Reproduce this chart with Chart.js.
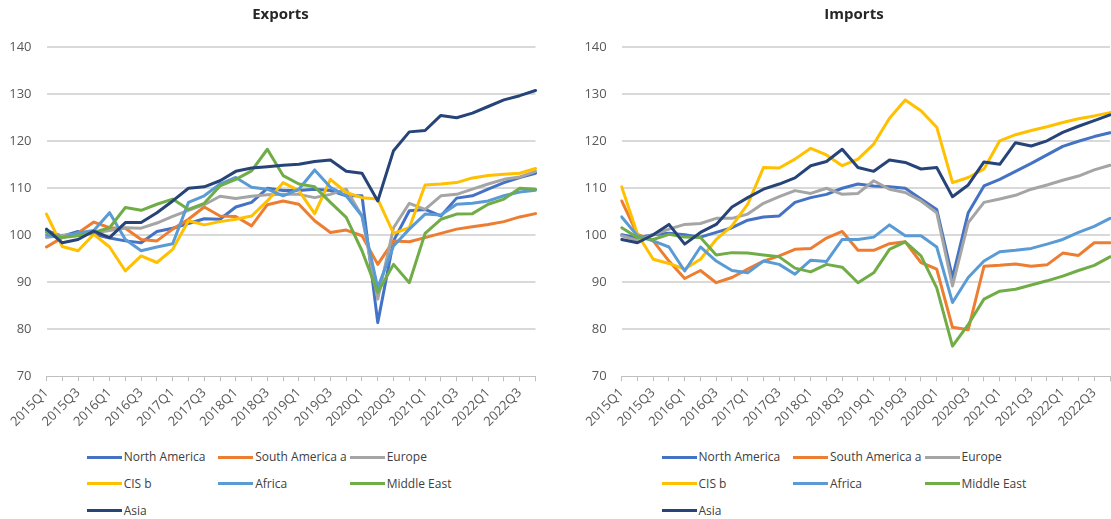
<!DOCTYPE html>
<html>
<head>
<meta charset="utf-8">
<script src="https://cdn.jsdelivr.net/npm/chart.js@4.4.1/dist/chart.umd.min.js"></script>
<style>
  html, body { margin: 0; padding: 0; background: #fff; overflow: hidden; }
  body { width: 1111px; height: 519px; position: relative; font-family: 'Open Sans', sans-serif; }
  canvas { position: absolute; top: 0; }
  .legend { position: absolute; top: 0; left: 0; font-size: 12px; color: #404040; }
  .legend .item { position: absolute; white-space: nowrap; height: 16px; line-height: 16px; }
  .legend .swatch { display: inline-block; width: 35px; height: 3px; vertical-align: middle; margin-right: 2px; position: relative; top: -1px; }
</style>
</head>
<body>
<canvas id="exportsChart" width="561" height="440" style="left:0px"></canvas>
<canvas id="importsChart" width="558" height="440" style="left:575px"></canvas>
<div id="exportsLegend" class="legend"></div>
<div id="importsLegend" class="legend"></div>
<script>
const quarters = [
  '2015Q1','2015Q2','2015Q3','2015Q4','2016Q1','2016Q2','2016Q3','2016Q4',
  '2017Q1','2017Q2','2017Q3','2017Q4','2018Q1','2018Q2','2018Q3','2018Q4',
  '2019Q1','2019Q2','2019Q3','2019Q4','2020Q1','2020Q2','2020Q3','2020Q4',
  '2021Q1','2021Q2','2021Q3','2021Q4','2022Q1','2022Q2','2022Q3','2022Q4'
];
const regions = ['North America', 'South America a', 'Europe', 'CIS b', 'Africa', 'Middle East', 'Asia'];
const regionColors = ['#4472C4', '#ED7D31', '#A5A5A5', '#FFC000', '#5B9BD5', '#70AD47', '#264478'];
const yMin = 70, yMax = 140, yStep = 10;

// Exports (index)
const exportsNorthAmerica = [101.0, 99.8, 100.8, 100.2, 99.4, 98.8, 98.4, 100.8, 101.5, 102.5, 103.5, 103.4, 106.0, 107.0, 110.0, 109.5, 109.5, 109.8, 109.5, 108.4, 108.4, 81.4, 98.8, 105.2, 105.5, 104.1, 107.9, 108.4, 109.8, 111.2, 112.3, 113.2];
const exportsSouthAmerica = [97.5, 99.5, 100.5, 102.8, 101.6, 101.5, 99.1, 98.8, 101.3, 103.4, 106.0, 104.1, 104.0, 102.0, 106.5, 107.3, 106.6, 103.1, 100.6, 101.1, 99.9, 93.8, 98.8, 98.6, 99.5, 100.4, 101.3, 101.8, 102.3, 102.9, 103.9, 104.6];
const exportsEurope = [99.5, 100.0, 100.2, 100.5, 101.0, 101.6, 101.5, 102.6, 104.0, 105.3, 106.5, 108.3, 107.8, 108.3, 108.6, 108.7, 108.7, 108.0, 108.7, 109.8, 104.1, 86.4, 101.6, 106.8, 105.5, 108.4, 108.7, 109.8, 110.9, 111.9, 112.4, 113.6];
const exportsCIS = [104.5, 97.6, 96.7, 100.2, 97.5, 92.4, 95.6, 94.2, 97.0, 103.1, 102.2, 102.9, 103.4, 104.1, 107.3, 111.2, 109.5, 104.6, 111.9, 109.1, 108.0, 107.7, 100.4, 101.6, 110.7, 110.9, 111.2, 112.2, 112.7, 113.0, 113.2, 114.2];
const exportsAfrica = [100.0, 99.5, 100.5, 101.0, 104.8, 99.1, 96.7, 97.5, 98.2, 107.0, 108.4, 110.9, 112.3, 110.2, 109.8, 108.4, 109.8, 113.9, 110.2, 108.4, 104.1, 88.8, 97.7, 101.3, 104.5, 104.3, 106.6, 106.8, 107.3, 108.4, 109.2, 109.6];
const exportsMiddleEast = [100.6, 99.5, 99.9, 100.6, 101.6, 105.9, 105.3, 106.6, 107.7, 105.5, 106.8, 110.5, 111.9, 113.7, 118.3, 112.7, 110.9, 110.3, 107.0, 103.8, 96.7, 87.8, 93.8, 89.9, 100.4, 103.4, 104.5, 104.6, 106.6, 107.7, 110.0, 109.8];
const exportsAsia = [101.3, 98.4, 99.1, 100.9, 99.5, 102.7, 102.7, 104.8, 107.3, 110.0, 110.3, 111.6, 113.6, 114.3, 114.6, 114.9, 115.1, 115.7, 116.0, 113.6, 113.2, 107.3, 118.0, 122.0, 122.3, 125.5, 125.0, 126.0, 127.4, 128.8, 129.7, 130.8];

// Imports (index)
const importsNorthAmerica = [100.1, 99.4, 100.1, 100.4, 100.1, 99.6, 100.6, 101.6, 103.2, 103.9, 104.1, 107.0, 108.0, 108.7, 110.0, 110.9, 110.5, 110.3, 110.0, 107.7, 105.5, 91.0, 104.8, 110.5, 111.9, 113.6, 115.3, 117.1, 118.9, 120.0, 121.0, 121.8];
const importsSouthAmerica = [107.3, 100.2, 98.8, 94.5, 90.8, 92.5, 89.9, 91.0, 92.8, 94.5, 95.6, 97.0, 97.2, 99.4, 100.8, 96.8, 96.8, 98.2, 98.6, 94.2, 92.8, 80.4, 79.9, 93.4, 93.6, 93.9, 93.4, 93.7, 96.2, 95.7, 98.4, 98.4];
const importsEurope = [99.9, 98.9, 100.1, 101.3, 102.3, 102.5, 103.6, 103.6, 104.5, 106.8, 108.2, 109.5, 108.9, 110.0, 108.7, 108.9, 111.6, 109.8, 109.1, 107.3, 104.8, 89.2, 102.7, 107.0, 107.7, 108.5, 109.8, 110.7, 111.7, 112.6, 113.9, 114.9];
const importsCIS = [110.3, 100.2, 94.9, 94.0, 92.8, 94.9, 99.1, 102.0, 106.6, 114.4, 114.3, 116.2, 118.5, 117.1, 114.8, 116.2, 119.4, 124.9, 128.8, 126.5, 123.0, 111.2, 112.3, 114.1, 120.1, 121.4, 122.3, 123.1, 124.0, 124.8, 125.4, 126.1];
const importsAfrica = [103.9, 99.9, 98.8, 97.5, 92.4, 97.5, 94.5, 92.5, 92.0, 94.5, 93.8, 91.7, 94.7, 94.4, 99.1, 99.1, 99.6, 102.2, 99.9, 99.9, 97.5, 85.7, 91.0, 94.5, 96.5, 96.8, 97.2, 98.1, 99.1, 100.6, 101.9, 103.6];
const importsMiddleEast = [101.6, 99.5, 99.1, 100.2, 99.6, 99.5, 95.8, 96.3, 96.2, 95.8, 95.4, 93.0, 92.2, 93.8, 93.2, 89.9, 92.0, 97.0, 98.6, 95.6, 88.8, 76.4, 81.0, 86.4, 88.1, 88.5, 89.4, 90.3, 91.3, 92.5, 93.6, 95.4];
const importsAsia = [99.1, 98.4, 100.1, 102.3, 98.1, 100.6, 102.3, 106.0, 108.0, 109.8, 110.9, 112.2, 114.8, 115.7, 118.3, 114.4, 113.6, 116.0, 115.5, 114.1, 114.4, 108.2, 110.7, 115.6, 115.1, 119.7, 119.0, 120.1, 121.9, 123.2, 124.4, 125.6];

Chart.defaults.font.family = "'Open Sans', sans-serif";

const canvasHeight = 440;
const axisBottom = 376.2;

function makeChart(id, title, series, axisWidths) {
  const ctx = document.getElementById(id).getContext('2d');
  return new Chart(ctx, {
    type: 'line',
    data: {
      labels: quarters,
      datasets: series.map((values, i) => ({
        label: regions[i],
        data: values,
        borderColor: regionColors[i],
        backgroundColor: regionColors[i],
        borderWidth: 3,
        pointRadius: 0,
        pointHoverRadius: 0,
        tension: 0,
        fill: false,
        borderJoinStyle: 'round',
        borderCapStyle: 'round',
        order: series.length - i // last series on top, like the original
      }))
    },
    options: {
      responsive: false,
      animation: false,
      devicePixelRatio: 1,
      layout: { padding: 0 },
      plugins: {
        legend: { display: false },
        tooltip: { enabled: false },
        title: {
          display: true,
          text: title,
          color: '#262626',
          font: { size: 15, weight: 'bold' },
          padding: { top: 6, bottom: 23.3 }
        }
      },
      scales: {
        x: {
          grid: { display: true, drawOnChartArea: false, drawTicks: true, tickLength: 5, color: '#BFBFBF', lineWidth: 1 },
          border: { display: true, color: '#BFBFBF', width: 1 },
          ticks: {
            autoSkip: false,
            maxRotation: 45,
            minRotation: 45,
            padding: 4,
            color: '#595959',
            font: { size: 13 },
            callback: function (value, index) {
              return index % 2 === 0 ? this.getLabelForValue(value) : '';
            }
          },
          afterFit: function (scale) {
            scale.height = canvasHeight - axisBottom;
            scale.paddingLeft = 0;
            scale.paddingRight = 0;
          }
        },
        y: {
          min: yMin,
          max: yMax,
          ticks: { stepSize: yStep, padding: 15, color: '#595959', font: { size: 13 } },
          grid: {
            color: c => (c.tick && c.tick.value === yMin) ? 'rgba(0,0,0,0)' : '#D9D9D9',
            lineWidth: 2,
            drawTicks: false
          },
          border: { display: false },
          afterFit: function (scale) { scale.width = axisWidths.left; }
        },
        // empty right-hand axis, only keeps the title centred where the original has it
        spacer: {
          position: 'right',
          axis: 'y',
          ticks: { display: false },
          grid: { display: false },
          border: { display: false },
          afterFit: function (scale) { scale.width = axisWidths.right; }
        }
      }
    }
  });
}

function buildLegend(elId, left) {
  const el = document.getElementById(elId);
  const colX = [0, 131.5, 263];
  const rowY = [449.3, 476, 502.7];
  regions.forEach((name, i) => {
    const item = document.createElement('div');
    item.className = 'item';
    item.style.left = (left + colX[i % 3]) + 'px';
    item.style.top = rowY[Math.floor(i / 3)] + 'px';
    item.innerHTML = `<span class="swatch" style="background:${regionColors[i]}"></span>${name}`;
    el.appendChild(item);
  });
}

makeChart('exportsChart', 'Exports',
  [exportsNorthAmerica, exportsSouthAmerica, exportsEurope, exportsCIS, exportsAfrica, exportsMiddleEast, exportsAsia],
  { left: 46.5, right: 25.5 });

makeChart('importsChart', 'Imports',
  [importsNorthAmerica, importsSouthAmerica, importsEurope, importsCIS, importsAfrica, importsMiddleEast, importsAsia],
  { left: 46.7, right: 23 });

buildLegend('exportsLegend', 86.7);
buildLegend('importsLegend', 661.5);
</script>
</body>
</html>
